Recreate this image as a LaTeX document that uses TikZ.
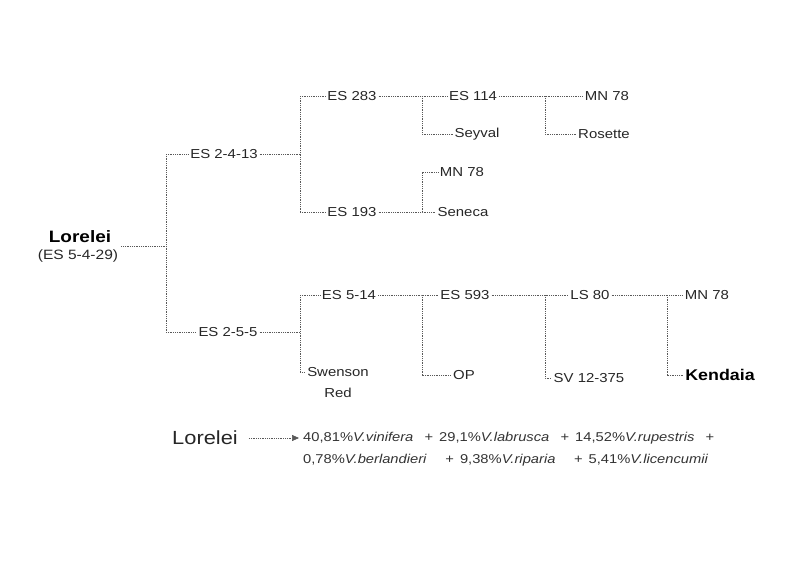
\documentclass[tikz,border=0pt]{standalone}
\usepackage{fontspec}
\setmainfont{Liberation Sans}[FakeStretch=1.15]
\usetikzlibrary{arrows.meta}
\tikzset{
  lbl/.style={inner sep=2pt, outer sep=0pt, text=black!85, font=\fontsize{13}{15}\selectfont},
  conn/.style={draw=black!65, line width=0.7pt, dash pattern=on 0.9pt off 0.9pt},
  formula/.style={inner sep=0pt, anchor=west, text=black!80, font=\fontsize{12.8}{15}\selectfont},
}
\newcommand{\plusgap}{\hfill+\hspace{6pt}}
\begin{document}
\begin{tikzpicture}[x=1pt,y=-1pt]
\useasboundingbox (0,0) rectangle (800,571);
% root
\node[inner sep=0pt, font=\fontsize{16.5}{19}\selectfont\bfseries] (lor) at (80,237) {Lorelei};
\node[lbl, inner sep=0pt, font=\fontsize{13.5}{16}\selectfont] (lorid) at (78,256) {(ES 5-4-29)};
\coordinate (j0) at (166,246);
\coordinate (j0t) at (166,154);
\coordinate (j0b) at (166,332);
% top half
\node[lbl] (es2413) at (224,154) {ES 2-4-13};
\coordinate (j1) at (300,154);
\coordinate (j1t) at (300,96);
\coordinate (j1b) at (300,212);
\node[lbl] (es283) at (352,96) {ES 283};
\node[lbl] (es193) at (352,212) {ES 193};
\coordinate (j2) at (422,96);
\coordinate (j2b) at (422,134);
\node[lbl] (es114) at (473,96) {ES 114};
\node[lbl] (seyval) at (477,134) {Seyval};
\coordinate (j3) at (545,96);
\coordinate (j3b) at (545,134);
\node[lbl] (mn78a) at (607,96) {MN 78};
\node[lbl] (rosette) at (604,134) {Rosette};
\coordinate (j4) at (422,212);
\coordinate (j4t) at (422,172);
\node[lbl] (mn78b) at (462,172) {MN 78};
\node[lbl] (seneca) at (463,212) {Seneca};
% bottom half
\node[lbl] (es255) at (228,332) {ES 2-5-5};
\coordinate (k1) at (300,332);
\coordinate (k1t) at (300,295);
\coordinate (k1b) at (300,372);
\node[lbl] (es514) at (349,295) {ES 5-14};
\node[lbl] (swen) at (338,372) {Swenson};
\node[lbl] (swenred) at (338,393) {Red};
\coordinate (k2) at (422,295);
\coordinate (k2b) at (422,375);
\node[lbl] (es593) at (465,295) {ES 593};
\node[lbl] (op) at (464,375) {OP};
\coordinate (k3) at (545,295);
\coordinate (k3b) at (545,378);
\node[lbl] (ls80) at (590,295) {LS 80};
\node[lbl] (sv) at (589,378) {SV 12-375};
\coordinate (k4) at (667,295);
\coordinate (k4b) at (667,375);
\node[lbl] (mn78c) at (707,295) {MN 78};
\node[lbl, text=black, font=\fontsize{15.5}{18}\selectfont\bfseries] (kend) at (720,375) {Kendaia};
% connectors
\draw[conn] ([xshift=3pt]lorid.east |- j0) -- (j0);
\draw[conn] (j0t) -- (j0b);
\draw[conn] (j0t) -- (es2413.west);
\draw[conn] (es2413.east) -- (j1);
\draw[conn] (j1t) -- (j1b);
\draw[conn] (j1t) -- (es283.west);
\draw[conn] (j1b) -- (es193.west);
\draw[conn] (es283.east) -- (j2) -- (es114.west);
\draw[conn] (j2) -- (j2b) -- (seyval.west);
\draw[conn] (es114.east) -- (j3) -- (mn78a.west);
\draw[conn] (j3) -- (j3b) -- (rosette.west);
\draw[conn] (es193.east) -- (j4) -- (seneca.west);
\draw[conn] (j4) -- (j4t) -- (mn78b.west);
\draw[conn] (j0b) -- (es255.west);
\draw[conn] (es255.east) -- (k1);
\draw[conn] (k1t) -- (k1b);
\draw[conn] (k1t) -- (es514.west);
\draw[conn] (k1b) -- (swen.west);
\draw[conn] (es514.east) -- (k2) -- (es593.west);
\draw[conn] (k2) -- (k2b) -- (op.west);
\draw[conn] (es593.east) -- (k3) -- (ls80.west);
\draw[conn] (k3) -- (k3b) -- (sv.west);
\draw[conn] (ls80.east) -- (k4) -- (mn78c.west);
\draw[conn] (k4) -- (k4b) -- (kend.west);
% formula
\node[inner sep=0pt, text=black!85, font=\fontsize{19}{22}\selectfont] (lor2) at (205,438) {Lorelei};
\node[formula] (f1) at (303,438)
  {\hbox to 417pt{40,81\%\textit{V.vinifera}\plusgap 29,1\%\textit{V.labrusca}\plusgap 14,52\%\textit{V.rupestris}\plusgap}};
\node[formula] (f2) at (303,460)
  {\hbox to 405pt{0,78\%\textit{V.berlandieri}\plusgap 9,38\%\textit{V.riparia}\plusgap 5,41\%\textit{V.licencumii}}};
\draw[conn, -{Triangle[length=7pt,width=6pt]}] ([xshift=11pt]lor2.east) -- ([xshift=-4pt]f1.west);
\end{tikzpicture}
\end{document}
